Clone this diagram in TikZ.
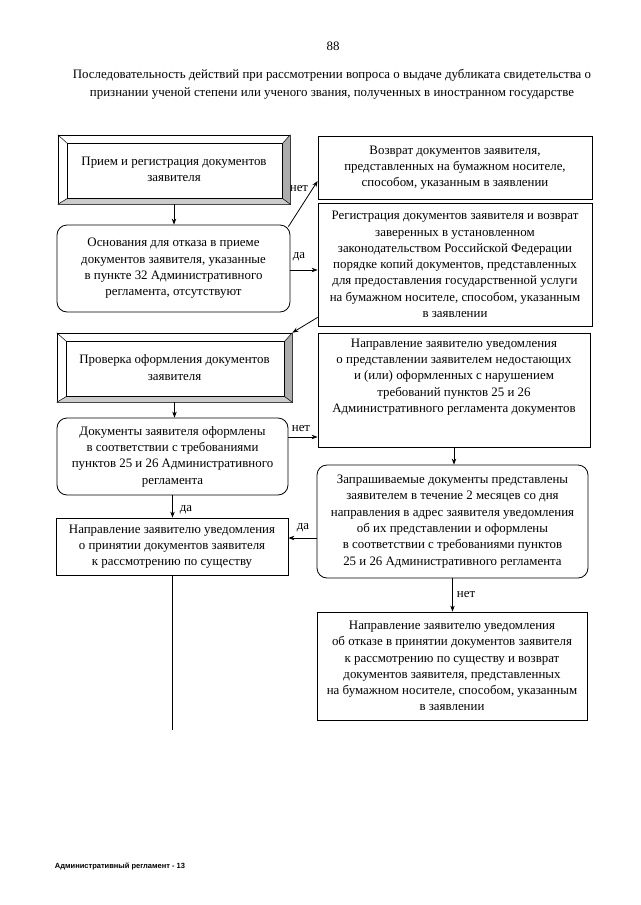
\documentclass[tikz,border=0pt]{standalone}
\usepackage{fontspec}
\setmainfont{Liberation Serif}
\newfontfamily\footfont{Liberation Sans}
\usetikzlibrary{arrows.meta}

% bevelled frame around a named node
\newcommand\bevelframe[1]{
	\fill[gray!40] (#1.south west) -- (#1.south east) -- ([shift={(-8,-6)}]#1.south east) -- ([shift={(10,-6)}]#1.south west) -- cycle;
	\fill[gray!65] (#1.south east) -- (#1.north east) -- ([shift={(-8,9)}]#1.north east) -- ([shift={(-8,-6)}]#1.south east) -- cycle;
	\draw[line width=0.6pt] ([shift={(10,9)}]#1.north west) rectangle ([shift={(-8,-6)}]#1.south east);
	\draw[line width=0.5pt] (#1.north west) -- ([shift={(10,9)}]#1.north west);
	\draw[line width=0.5pt] (#1.north east) -- ([shift={(-8,9)}]#1.north east);
	\draw[line width=0.5pt] (#1.south west) -- ([shift={(10,-6)}]#1.south west);
	\draw[line width=0.5pt] (#1.south east) -- ([shift={(-8,-6)}]#1.south east);
}

\begin{document}
\begin{tikzpicture}[x=1pt, y=-1pt, font=\fontsize{12.9}{16.3}\selectfont,
		box/.style={draw, line width=0.8pt, align=center, inner sep=0pt},
		rbox/.style={box, rounded corners=10pt},
		bevel/.style={box, line width=0.6pt},
		arr/.style={line width=0.8pt, -{Stealth[length=6pt,width=4.5pt]}},
		lbl/.style={inner sep=0pt}]
	\useasboundingbox (0,0) rectangle (640,905);
	\node (page) at (333,46) {88};
	\node[align=center, font=\fontsize{12.9}{18}\selectfont] (title) at (332,84) {Последовательность действий при рассмотрении вопроса о выдаче дубликата свидетельства о\\признании ученой степени или ученого звания, полученных в иностранном государстве};

	% left column
	\node[bevel, minimum width=232pt, minimum height=69pt] (priem) at (174,169.5) {Прием и регистрация документов\\заявителя};
	\bevelframe{priem}
	\node[rbox, minimum width=233pt, minimum height=87pt] (osn) at (173.5,268.5) {Основания для отказа в приеме\\документов заявителя, указанные\\в пункте 32 Административного\\регламента, отсутствуют};
	\node[bevel, minimum width=235pt, minimum height=69pt] (prov) at (174.5,367.5) {Проверка оформления документов\\заявителя};
	\bevelframe{prov}
	\node[rbox, minimum width=231pt, minimum height=77pt] (oform) at (172.5,456.5) {Документы заявителя оформлены\\в соответствии с требованиями\\пунктов 25 и 26 Административного\\регламента};
	\node[box, minimum width=232pt, minimum height=57pt] (prin) at (172,546.5) {Направление заявителю уведомления\\о принятии документов заявителя\\к рассмотрению по существу};
	\coordinate (end) at (172,730);

	% right column
	\node[box, minimum width=274pt, minimum height=63pt] (vozvr) at (455,167.5) {Возврат документов заявителя,\\представленных на бумажном носителе,\\способом, указанным в заявлении};
	\node[box, minimum width=274pt, minimum height=123pt] (reg) at (455,264.5) {Регистрация документов заявителя и возврат\\заверенных в установленном\\законодательством Российской Федерации\\порядке копий документов, представленных\\для предоставления государственной услуги\\на бумажном носителе, способом, указанным\\в заявлении};
	\node[box, minimum width=272pt, minimum height=114pt, text depth=29pt] (uved) at (454,390) {Направление заявителю уведомления\\о представлении заявителем недостающих\\и (или) оформленных с нарушением\\требований пунктов 25 и 26\\Административного регламента документов};
	\node[rbox, minimum width=271pt, minimum height=113pt] (zapr) at (452.5,521.5) {Запрашиваемые документы представлены\\заявителем в течение 2 месяцев со дня\\направления в адрес заявителя уведомления\\об их представлении и оформлены\\в соответствии с требованиями пунктов\\25 и 26 Административного регламента};
	\node[box, minimum width=270pt, minimum height=108pt] (otkaz) at (452,666) {Направление заявителю уведомления\\об отказе в принятии документов заявителя\\к рассмотрению по существу и возврат\\документов заявителя, представленных\\на бумажном носителе, способом, указанным\\в заявлении};

	% connectors
	\draw[arr] (priem.south) -- (priem.south |- osn.north);
	\draw[arr] ([shift={(-2,2)}]osn.north east) -- ([yshift=-13.5pt]vozvr.west);
	\node[lbl] (net1) at (299,189) {нет};
	\draw[arr] ([yshift=-1.5pt]osn.east) -- ([yshift=-1.5pt]osn.east -| reg.west);
	\node[lbl] (da1) at (299,257) {да};
	\draw[arr] ([yshift=9pt]reg.south west) -- (prov.north east);
	\draw[arr] (prov.south) -- (prov.south |- oform.north);
	\draw[arr] ([yshift=19.5pt]oform.east) -- ([yshift=19.5pt]oform.east -| uved.west);
	\node[lbl] (net2) at (301,429) {нет};
	\draw[arr] (uved.south) -- (uved.south |- zapr.north);
	\draw[arr] (oform.south) -- (oform.south |- prin.north);
	\node[lbl] (da2) at (186,510) {да};
	\draw[arr] ([yshift=-16.5pt]zapr.west) -- ([yshift=-16.5pt]zapr.west -| prin.east);
	\node[lbl] (da3) at (303,528) {да};
	\draw[arr] (zapr.south) -- (zapr.south |- otkaz.north);
	\node[lbl] (net3) at (466,595) {нет};
	\draw[line width=0.8pt] (prin.south) -- (end);

	\node[font=\footfont\bfseries\fontsize{7.5}{9}\selectfont] (foot) at (120,866) {Административный регламент - 13};
\end{tikzpicture}
\end{document}
